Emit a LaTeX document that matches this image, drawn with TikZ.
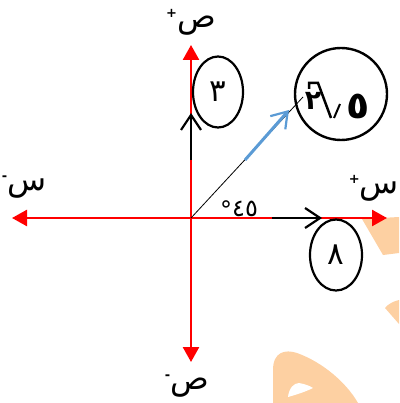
\documentclass[tikz,border=0pt]{standalone}
\usepackage{fontspec}
\setmainfont{DejaVu Sans}
\newfontfamily\ar[Script=Arabic]{DejaVu Sans}
\usetikzlibrary{arrows.meta,shapes.geometric}
\definecolor{axred}{RGB}{255,0,0}
\definecolor{vblue}{RGB}{91,155,213}
\definecolor{wmark}{RGB}{253,208,162}
\newcommand{\axlabel}[2]{{\bfseries\fontsize{13}{13}\selectfont\raisebox{10pt}{#1}}{\ar\fontsize{32}{32}\selectfont #2}}
\begin{document}
\begin{tikzpicture}[x=1pt,y=-1pt,
  axis/.style={axred,line width=2.5pt,-{Triangle[length=15pt,width=16pt]}},
  vec/.style={line width=2.2pt,-{Straight Barb[length=15pt,width=20pt,line width=2.2pt]}},
  oval/.style={draw,line width=2.2pt,ellipse,inner sep=0pt},
  digit/.style={font=\ar\fontsize{31}{31}\selectfont},
  lbl/.style={inner sep=0pt}]
\useasboundingbox (0,0) rectangle (399,403);
\clip (0,0) rectangle (399,403);
% watermark
\fill[wmark] (362,219) -- (399,217) -- (399,253) -- (383,255) -- cycle;
\fill[wmark] (385,308) .. controls (388,304) and (394,301) .. (399,300) -- (399,324) -- cycle;
\fill[wmark] (273,403) -- (273,370) .. controls (273,352) and (285,349) .. (297,353)
  .. controls (322,362) and (346,382) .. (358,403) -- cycle;
\fill[white] (288,397) .. controls (289,388) and (294,383) .. (299,383)
  .. controls (305,384) and (310,386) .. (313,388) .. controls (305,392) and (295,395) .. (288,397) -- cycle;
% axes
\coordinate (O) at (191,218);
\coordinate (yp) at (191,45);
\coordinate (yn) at (191,362);
\coordinate (xp) at (387,218);
\coordinate (xn) at (12,218);
\draw[axis] (O) -- (yp);
\draw[axis] (O) -- (yn);
\draw[axis] (O) -- (xp);
\draw[axis] (O) -- (xn);
% axis labels
\node[lbl] (lyp) at (191,22) {\axlabel{+}{ص}};
\node[lbl] (lyn) at (187,386) {\axlabel{-}{ص}};
\node[lbl] (lxn) at (24,187) {\axlabel{-}{س}};
\node[lbl,anchor=east] (lxp) at (399,188) {\axlabel{+}{س}};
% vectors
\coordinate (a1) at (191,160);
\coordinate (a2) at (191,113);
\draw[vec] (a1) -- (a2);
\coordinate (b1) at (272,218);
\coordinate (b2) at (322,218);
\draw[vec] (b1) -- (b2);
\coordinate (d1) at (303,97);
\draw[line width=0.8pt] (O) -- (d1);
\coordinate (c1) at (245,160);
\coordinate (c2) at (289,110);
\draw[vec,vblue,line width=3pt] (c1) -- (c2);
% ovals
\node[oval,minimum width=50pt,minimum height=71pt,digit] (e3) at (218,92) {٣};
\node[oval,minimum width=52pt,minimum height=71pt,digit] (e8) at (336,255) {٨};
\node[draw,circle,line width=2.4pt,minimum size=92pt,inner sep=0pt] (big) at (341,94) {};
% content of big circle
\node[inner sep=0pt,font=\ar\bfseries\fontsize{27}{27}\selectfont] (t2) at (313,101) {٢};
\node[inner sep=0pt,font=\ar\bfseries\fontsize{38}{38}\selectfont] (t5) at (358,106) {٥};
\draw[line width=2.5pt] (309,89) -- (309,83) -- (318,83) -- (331,118);
\draw[line width=2pt] (334,118) -- (340,104);
% angle label
\node[inner sep=0pt,font=\fontsize{24}{24}\selectfont] (ang) at (239,210) {\raisebox{-2pt}{°}{\ar ٤٥}};
\end{tikzpicture}
\end{document}
